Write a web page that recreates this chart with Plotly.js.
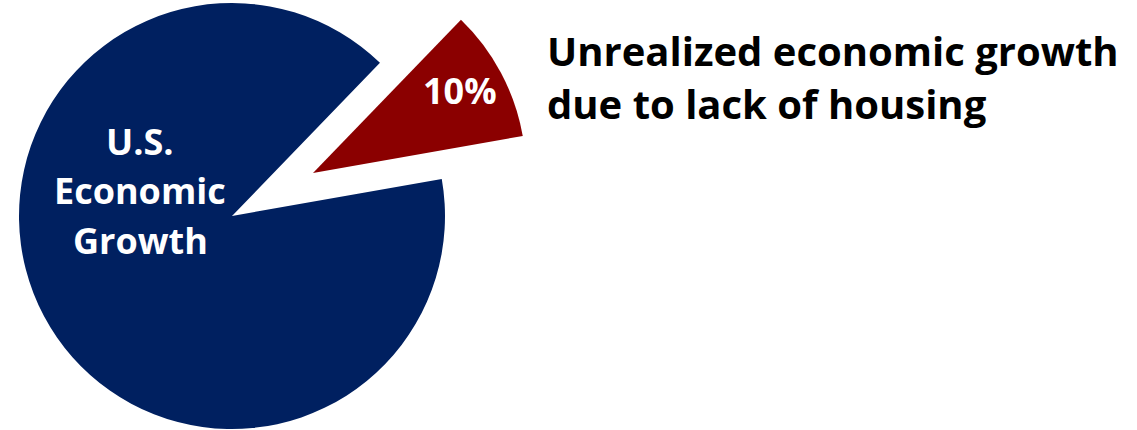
<!DOCTYPE html>
<html>
<head>
<meta charset="utf-8">
<script src="https://cdn.plot.ly/plotly-3.0.1.min.js"></script>
<style>
  html, body { margin: 0; padding: 0; background: #ffffff; overflow: hidden; width: 1137px; height: 430px; }
  #chart { position: absolute; left: 0; top: -50px; width: 1137px; height: 480px; }
</style>
</head>
<body>
<div id="chart"></div>
<script>
// ---- data ----
const categories = ['Unrealized economic growth due to lack of housing', 'U.S. Economic Growth'];
const values = [10, 90];
const sliceColors = ['#8B0000', '#002060'];
const titleLines = ['Unrealized economic growth', 'due to lack of housing'];
const mainLabelLines = ['U.S.', 'Economic', 'Growth'];

// ---- layout helpers (pixel positions -> paper fractions) ----
const W = 1137, H = 480, SHIFT = 50;
const px = x => x / W;
const py = y => 1 - (y + SHIFT) / H;

const total = values.reduce((a, b) => a + b, 0);
const pctText = Math.round(values[0] / total * 100) + '%';

const FONT = 'Open Sans, Noto Sans, sans-serif';
const clear = 'rgba(0,0,0,0)';

const common = {
  type: 'pie',
  labels: categories,
  values: values,
  sort: false,
  direction: 'clockwise',
  rotation: 44,
  textinfo: 'none',
  hoverinfo: 'none',
  showlegend: false
};

const mainTrace = Object.assign({}, common, {
  marker: { colors: [clear, sliceColors[1]], line: { width: 0 } },
  domain: { x: [px(19), px(445)], y: [py(429), py(3)] }
});

const pulledTrace = Object.assign({}, common, {
  marker: { colors: [sliceColors[0], clear], line: { width: 0 } },
  domain: { x: [px(100), px(526)], y: [py(386), py(-40)] }
});

const annotations = [];
titleLines.forEach((t, i) => {
  annotations.push({
    xref: 'paper', yref: 'paper', x: px(545), y: py(50 + i * 53),
    xanchor: 'left', yanchor: 'middle', showarrow: false, text: t,
    font: { family: FONT, size: 40, color: '#000000', weight: 700 }
  });
});
mainLabelLines.forEach((t, i) => {
  annotations.push({
    xref: 'paper', yref: 'paper', x: px(140), y: py(141 + i * 49.5),
    xanchor: 'center', yanchor: 'middle', showarrow: false, text: t,
    font: { family: FONT, size: 36, color: '#ffffff', weight: 700 }
  });
});
annotations.push({
  xref: 'paper', yref: 'paper', x: px(460), y: py(91),
  xanchor: 'center', yanchor: 'middle', showarrow: false, text: pctText,
  font: { family: FONT, size: 36, color: '#ffffff', weight: 700 }
});

const layout = {
  width: W, height: H,
  margin: { l: 0, r: 0, t: 0, b: 0, pad: 0 },
  paper_bgcolor: '#ffffff',
  plot_bgcolor: '#ffffff',
  showlegend: false,
  annotations: annotations
};

Plotly.newPlot('chart', [mainTrace, pulledTrace], layout, { displayModeBar: false, staticPlot: true });
</script>
</body>
</html>
